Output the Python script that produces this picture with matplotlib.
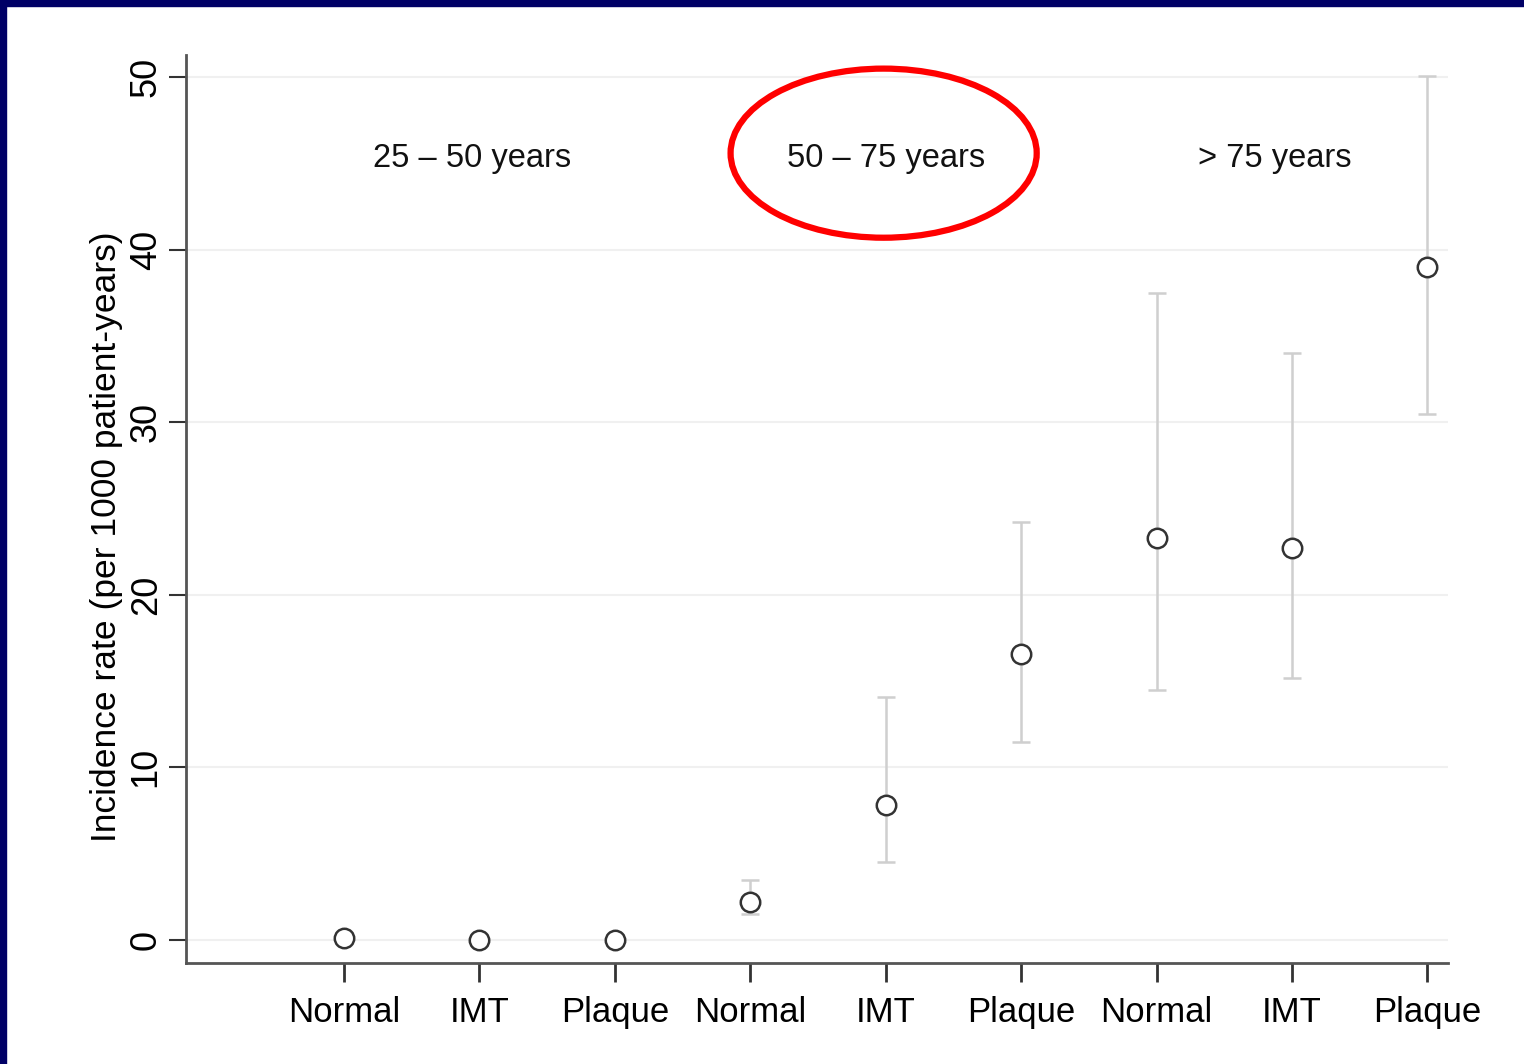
import numpy as np
import matplotlib.pyplot as plt
from matplotlib.patches import Ellipse

plt.rcParams['font.family'] = ['Liberation Sans', 'DejaVu Sans']

categories = ['Normal', 'IMT', 'Plaque'] * 3
groups = ['25 \u2013 50 years', '50 \u2013 75 years', '> 75 years']
rate = [0.1, 0.0, 0.0, 2.2, 7.8, 16.6, 23.3, 22.7, 39.0]
lower = [np.nan, np.nan, np.nan, 1.5, 4.5, 11.5, 14.5, 15.2, 30.5]
upper = [np.nan, np.nan, np.nan, 3.5, 14.1, 24.2, 37.5, 34.0, 50.1]

x = np.arange(1, len(rate) + 1)
rate = np.array(rate)
yerr = np.array([rate - np.array(lower), np.array(upper) - rate])

fig = plt.figure(figsize=(15.24, 10.64), dpi=100)
# navy frame on top and left
fig.patches.append(plt.Rectangle((0, 0.994), 1, 0.006, transform=fig.transFigure,
                                 color='#000066', zorder=0))
fig.patches.append(plt.Rectangle((0, 0), 0.004, 1, transform=fig.transFigure,
                                 color='#000066', zorder=0))

ax = fig.add_axes([0.122, 0.095, 0.828, 0.853])
ax.errorbar(x, rate, yerr=yerr, fmt='none', ecolor='#cfcfcf', elinewidth=1.8,
            capsize=6.5, capthick=1.8, zorder=2)
ax.plot(x, rate, 'o', mfc='white', mec='#333333', mew=1.8, ms=14, zorder=3)

for i, g in enumerate(groups):
    gx = [1.95, 5.0, 7.87][i]
    ax.text(gx, 45.3, g, ha='center', va='center', fontsize=23.5, color='#111111')

ax.add_patch(Ellipse((4.985, 45.6), 2.26, 9.8, fill=False, edgecolor='red',
                     linewidth=4.5, clip_on=False, zorder=4))

ax.set_xlim(-0.166, 9.15)
ax.set_ylim(-1.33, 51.27)
ax.set_xticks(x)
ax.set_xticklabels(categories, fontsize=25)
ax.set_yticks(np.arange(0, 51, 10))
ax.set_yticklabels([str(v) for v in range(0, 51, 10)], fontsize=26, rotation=90, va='center')
ax.set_ylabel('Incidence rate (per 1000 patient-years)', fontsize=25.5)
ax.yaxis.set_label_coords(-0.05, 0.47)
ax.yaxis.grid(True, color='#f0f0f0', linewidth=1.5)
ax.set_axisbelow(True)
ax.tick_params(axis='x', length=14, width=2, color='#333333', pad=10)
ax.tick_params(axis='y', length=12, width=1.5, color='#333333', pad=4)
for s in ['top', 'right']:
    ax.spines[s].set_visible(False)
for s in ['left', 'bottom']:
    ax.spines[s].set_color('#555555')
    ax.spines[s].set_linewidth(2)

fig.savefig('out.png', dpi=100)
